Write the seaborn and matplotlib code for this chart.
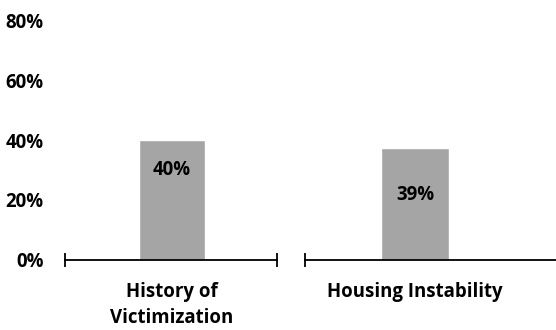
import matplotlib
matplotlib.use("Agg")
import matplotlib.pyplot as plt
import seaborn as sns
import pandas as pd

# data
categories = ["History of\nVictimization", "Housing Instability"]
values = [40, 37.3]
value_labels = ["40%", "39%"]
y_ticks = [0, 20, 40, 60, 80]
y_tick_labels = ["0%", "20%", "40%", "60%", "80%"]

sns.set_theme(style="white")
plt.rcParams["font.family"] = ["Open Sans", "DejaVu Sans"]
plt.rcParams["font.weight"] = "bold"

BAR = "#A5A5A5"
FS = 13.4

fig = plt.figure(figsize=(5.56, 3.30), dpi=100)
W, H = 556, 330
bottom = (H - 259.5) / H
height = (259.5 - 21) / H
axes_px = [(65, 212), (305, 251)]
xlims = [(-1.297, 1.27), (-1.294, 1.659)]
end_ticks = [True, False]
label_offsets = [10, 15.7]

df = pd.DataFrame({"cat": categories, "val": values})

for i, ((x0, w), xl) in enumerate(zip(axes_px, xlims)):
    ax = fig.add_axes([x0 / W, bottom, w / W, height])
    sub = df.iloc[i:i + 1]
    sns.barplot(data=sub, x="cat", y="val", color=BAR, width=0.8,
                saturation=1, ax=ax)
    ax.set_xlim(*xl)
    ax.set_ylim(0, 80)
    ax.set_xlabel("")
    ax.set_ylabel("")
    for s in ["top", "right", "left"]:
        ax.spines[s].set_visible(False)
    ax.spines["bottom"].set_color("black")
    ax.spines["bottom"].set_linewidth(1.3)
    ax.set_xticks([xl[0], xl[1]] if end_ticks[i] else [xl[0]], minor=True)
    ax.tick_params(axis="x", which="minor", direction="inout", length=10,
                   width=1.3, color="black", bottom=True)
    ax.tick_params(axis="x", which="major", length=0, pad=16,
                   labelsize=FS, labelcolor="black")
    for t in ax.get_xticklabels():
        t.set_fontweight("bold")
        t.set_linespacing(1.45)
        t.set_va("top")
    if i == 0:
        ax.set_yticks(y_ticks)
        ax.set_yticklabels(y_tick_labels, fontsize=FS, fontweight="bold",
                           color="black")
        ax.tick_params(axis="y", length=0, pad=15.5)
    else:
        ax.set_yticks([])
    ax.text(0, values[i] - label_offsets[i], value_labels[i], ha="center",
            va="center", fontsize=FS, fontweight="bold", color="black")
    ax.patch.set_alpha(0)

fig.savefig("out.png", dpi=100)
